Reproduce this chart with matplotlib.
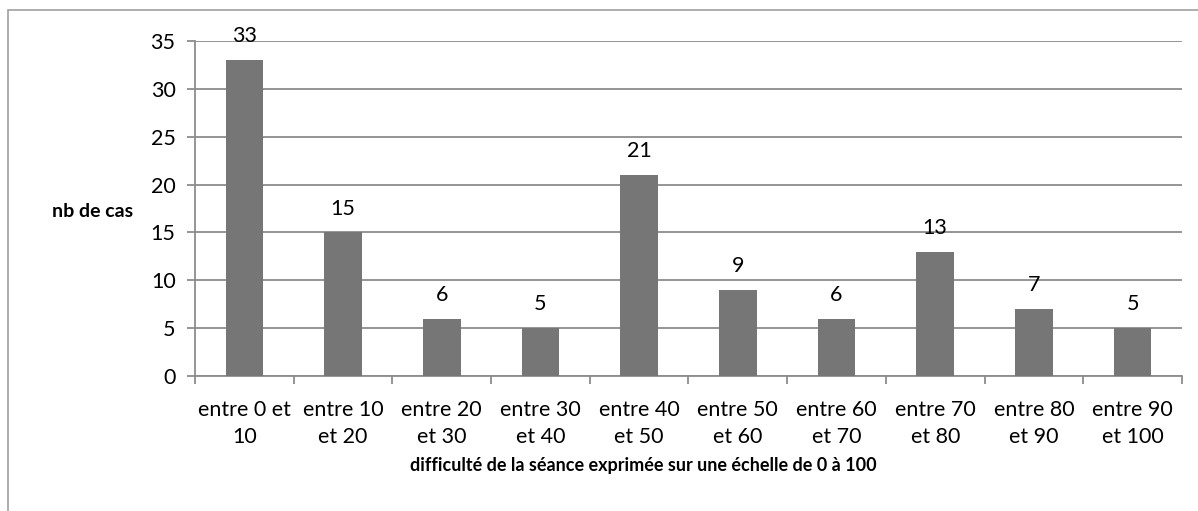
import numpy as np
import matplotlib.pyplot as plt
from matplotlib.patches import Rectangle

# --- donnees ---
categories = ["entre 0 et\n10", "entre 10\net 20", "entre 20\net 30", "entre 30\net 40",
              "entre 40\net 50", "entre 50\net 60", "entre 60\net 70", "entre 70\net 80",
              "entre 80\net 90", "entre 90\net 100"]
nb_cas = [33, 15, 6, 5, 21, 9, 6, 13, 7, 5]
y_ticks = [0, 5, 10, 15, 20, 25, 30, 35]

plt.rcParams['font.family'] = ['Lato', 'DejaVu Sans']

grid_col = '#8c8c8c'
bar_col = '#767676'
fs = 15.5

fig = plt.figure(figsize=(11.98, 5.11), dpi=100)
ax = fig.add_axes([0.1628, 0.2642, 0.8238, 0.6556])

# cadre exterieur
fig.patches.append(Rectangle((8 / 1198, -0.05), 1.2, 1 - 10 / 511 + 0.05,
                             transform=fig.transFigure, fill=False,
                             edgecolor='#a0a0a0', linewidth=1.2))

x = np.arange(len(categories))
ax.bar(x, nb_cas, width=0.38, color=bar_col, zorder=3)

for xi, v in zip(x, nb_cas):
    ax.annotate(str(v), (xi, v), xytext=(0, 10), textcoords='offset points',
                ha='center', va='bottom', fontsize=fs)

ax.set_xlim(-0.5, len(categories) - 0.5)
ax.set_ylim(0, 35)
ax.set_yticks(y_ticks)
ax.yaxis.grid(True, color=grid_col, linewidth=1.3, zorder=0)
ax.set_axisbelow(True)

ax.set_xticks(x)
ax.set_xticklabels(categories, fontsize=fs, linespacing=1.45)
ax.set_xticks(np.arange(-0.5, len(categories)), minor=True)
ax.tick_params(axis='x', which='major', length=0, pad=17)
ax.tick_params(axis='x', which='minor', length=6, color=grid_col, width=1.3)
ax.tick_params(axis='y', length=6, color=grid_col, width=1.3, labelsize=fs, pad=8)

for s in ['top', 'right']:
    ax.spines[s].set_visible(False)
for s in ['left', 'bottom']:
    ax.spines[s].set_color(grid_col)
    ax.spines[s].set_linewidth(1.3)

ax.set_ylabel("nb de cas", rotation=0, fontweight='bold', fontsize=14, va='center', ha='center')
ax.yaxis.set_label_coords(-0.104, 0.49)
ax.set_xlabel("difficulté de la séance exprimée sur une échelle de 0 à 100",
              fontweight='bold', fontsize=13, va='center', ha='center')
ax.xaxis.set_label_coords(0.454, -0.267)

plt.savefig("out.png", dpi=100)
